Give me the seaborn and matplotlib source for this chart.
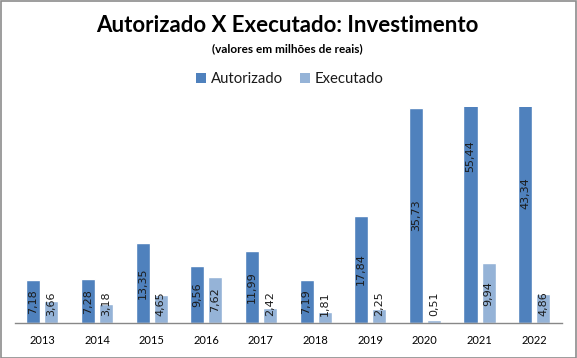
import matplotlib
matplotlib.use("Agg")
import matplotlib.pyplot as plt
import seaborn as sns
import pandas as pd
from matplotlib.patches import Rectangle, Patch

anos = ["2013", "2014", "2015", "2016", "2017", "2018", "2019", "2020", "2021", "2022"]
autorizado = [7.18, 7.28, 13.35, 9.56, 11.99, 7.19, 17.84, 35.73, 55.44, 43.34]
executado = [3.66, 3.18, 4.65, 7.62, 2.42, 1.81, 2.25, 0.51, 9.94, 4.86]
series = ["Autorizado", "Executado"]
cores = ["#4F81BD", "#95B3D7"]

df = pd.DataFrame({
    "ano": anos * 2,
    "valor": autorizado + executado,
    "serie": [series[0]] * len(anos) + [series[1]] * len(anos),
})

sns.set_theme(style="white")
plt.rcParams["font.family"] = ["Lato", "DejaVu Sans"]

fig = plt.figure(figsize=(5.77, 3.58), dpi=100)
ax = fig.add_axes([15 / 577, 1 - 323 / 358, (561.5 - 15) / 577, (323 - 106.5) / 358])

sns.barplot(data=df, x="ano", y="valor", hue="serie", palette=cores,
            width=0.66, gap=0.22, ax=ax, legend=False, saturation=1)

ax.set_ylim(0, 36)
ax.set_xlim(-0.5, len(anos) - 0.5)
ax.set_xlabel("")
ax.set_ylabel("")
ax.set_yticks([])
for s in ["top", "left", "right"]:
    ax.spines[s].set_visible(False)
ax.spines["bottom"].set_color("#888888")
ax.spines["bottom"].set_linewidth(1)
ax.tick_params(axis="x", length=0, pad=9, labelsize=8, colors="#000000")

# data labels centred in the bar, but kept above the axis line
min_center = 3.2
for cont, vals in zip(ax.containers, [autorizado, executado]):
    for bar, v in zip(cont, vals):
        xc = bar.get_x() + bar.get_width() / 2
        yc = max(v / 2, min_center)
        ax.text(xc, yc, f"{v:.2f}".replace(".", ","), rotation=90,
                ha="center", va="center", fontsize=8, color="#1a1a1a",
                family="DejaVu Sans", clip_on=False)

cx = 287 / 577
fig.text(cx, 1 - 25.5 / 358, "Autorizado X Executado: Investimento",
         ha="center", va="center", fontsize=16, fontweight="bold", color="#000000")
fig.text(cx, 1 - 49 / 358, "(valores em milhões de reais)",
         ha="center", va="center", fontsize=8.5, fontweight="bold", color="#000000")

handles = [Patch(facecolor=c, edgecolor="none") for c in cores]
fig.legend(handles, series, loc="center", bbox_to_anchor=(290 / 577, 1 - 79 / 358),
           ncol=2, frameon=False, fontsize=10.7, handlelength=0.65, handleheight=0.65,
           handletextpad=0.35, columnspacing=1.15, labelcolor="#1a1a1a")

fig.patches.append(Rectangle((0.5 / 577, 0.5 / 358), 1 - 1.5 / 577, 1 - 1.5 / 358,
                             transform=fig.transFigure, fill=False,
                             edgecolor="#8c8c8c", linewidth=1.2))

fig.savefig("out.png", dpi=100)
